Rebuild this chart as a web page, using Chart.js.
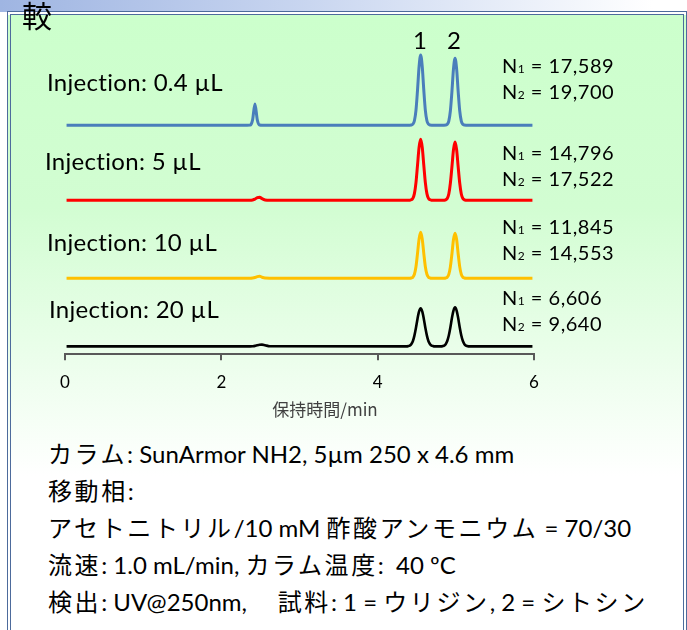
<!DOCTYPE html>
<html>
<head>
<meta charset="utf-8">
<script src="https://cdn.jsdelivr.net/npm/chart.js@4"></script>
<style>
  html, body { margin: 0; padding: 0; }
  body { width: 687px; height: 630px; position: relative; overflow: hidden; background: #fff;
         font-family: 'Lato', 'Noto Sans CJK JP', sans-serif; color: #000; }
  #band { position: absolute; left: 0; top: 0; width: 687px; height: 12px;
          background: linear-gradient(to right, #9fb5e2 0%, #c9d6f0 45%, #ffffff 95%); }
  #box { position: absolute; left: 7px; top: 11px; width: 672px; height: 640px;
         border: 4px double #4d6b9c;
         background: linear-gradient(to bottom, #ccffcc 0%, #d2fdd2 30%, #ffffff 72%); }
  #chart { position: absolute; left: 0; top: 0; }
  .t { position: absolute; white-space: nowrap; line-height: 1; }
  .inj { font-size: 24px; letter-spacing: 0.3px; }
  .n { font-size: 20px; letter-spacing: 0.5px; }
  .n sub { font-size: 12px; vertical-align: baseline; }
  .pk { font-size: 24px; }
  .cond { font-size: 24px; left: 48px; }
  .jp { font-family: 'Noto Sans CJK JP'; letter-spacing: 2.6px; }
  #kanji { font-family: 'Noto Sans CJK JP'; font-size: 30px; left: 22px; top: -1px; }
</style>
</head>
<body>
<div id="band"></div>
<div id="box"></div>
<canvas id="chart" width="687" height="420"></canvas>

<div class="t" id="kanji">較</div>

<div class="t pk" style="left:413px; top:28px;">1</div>
<div class="t pk" style="left:447px; top:28px;">2</div>

<div class="t inj" style="left:47px; top:70px;">Injection: 0.4 µL</div>
<div class="t inj" style="left:45px; top:149px;">Injection: 5 µL</div>
<div class="t inj" style="left:47px; top:230px;">Injection: 10 µL</div>
<div class="t inj" style="left:49px; top:297px;">Injection: 20 µL</div>

<div class="t n" style="left:502px; top:55px;">N<sub>1</sub> = 17,589</div>
<div class="t n" style="left:502px; top:81px;">N<sub>2</sub> = 19,700</div>
<div class="t n" style="left:502px; top:142px;">N<sub>1</sub> = 14,796</div>
<div class="t n" style="left:502px; top:168px;">N<sub>2</sub> = 17,522</div>
<div class="t n" style="left:502px; top:216px;">N<sub>1</sub> = 11,845</div>
<div class="t n" style="left:502px; top:242px;">N<sub>2</sub> = 14,553</div>
<div class="t n" style="left:502px; top:287px;">N<sub>1</sub> = 6,606</div>
<div class="t n" style="left:502px; top:313px;">N<sub>2</sub> = 9,640</div>

<div class="t cond" style="top:441px;"><span class="jp">カラム</span>: SunArmor NH2, 5µm 250 x 4.6 mm</div>
<div class="t cond" style="top:478px;"><span class="jp">移動相</span>:</div>
<div class="t cond" style="top:515px;"><span class="jp">アセトニトリル</span>/10 mM <span class="jp">酢酸アンモニウム</span> = 70/30</div>
<div class="t cond" style="top:552px;"><span class="jp">流速</span>: 1.0 mL/min, <span class="jp">カラム温度</span>:&nbsp; 40 ºC</div>
<div class="t cond" style="top:589px;"><span class="jp">検出</span>: UV@250nm,&nbsp;&nbsp;&nbsp;&nbsp; <span class="jp">試料</span>: 1 = <span class="jp">ウリジン</span>, 2 = <span class="jp">シトシン</span></div>

<script>
// --- DATA ---
// retention time, min
const retentionTime = [
  0.02,
  2.33, 2.37, 2.40, 2.43, 2.46, 2.49, 2.52, 2.56, 2.62,
  4.37, 4.39, 4.41, 4.43, 4.45, 4.47, 4.49, 4.51, 4.53, 4.55,
  4.57, 4.59, 4.61, 4.63, 4.65, 4.67, 4.69, 4.71, 4.73,
  4.81, 4.83, 4.85, 4.87, 4.89, 4.91, 4.93, 4.95, 4.97, 4.99,
  5.01, 5.03, 5.05, 5.07, 5.09, 5.11, 5.13, 5.15, 5.17,
  5.98
];

// detector response per injection (relative units)
const signal04uL = [
  0,
  0, 0.03, 1.7, 6.7, 1.7, 0.05, 0, 0, 0,
  0, 0, 0, 0.04, 0.3, 1.4, 4.7, 11.2, 18.7, 22.3,
  18.7, 11.2, 4.7, 1.4, 0.3, 0.04, 0, 0, 0,
  0, 0, 0, 0.04, 0.3, 1.3, 4.5, 10.7, 17.9, 21.3,
  17.9, 10.7, 4.5, 1.3, 0.3, 0.04, 0, 0, 0,
  0
];
const signal5uL = [
  0,
  0, 0, 0.1, 0.35, 0.85, 0.95, 0.5, 0.1, 0,
  0, 0, 0.02, 0.14, 0.6, 2.1, 5.6, 11.2, 16.9, 19.4,
  16.9, 11.2, 5.6, 2.1, 0.6, 0.14, 0.02, 0, 0,
  0, 0, 0.02, 0.13, 0.57, 2.0, 5.4, 10.6, 16.1, 18.5,
  16.1, 10.6, 5.4, 2.0, 0.57, 0.13, 0.02, 0, 0,
  0
];
const signal10uL = [
  0,
  0, 0, 0.05, 0.2, 0.5, 0.6, 0.3, 0.05, 0,
  0, 0, 0, 0.06, 0.31, 1.24, 3.65, 7.9, 12.5, 14.6,
  12.5, 7.9, 3.65, 1.24, 0.31, 0.06, 0, 0, 0,
  0, 0, 0, 0.06, 0.3, 1.2, 3.6, 7.7, 12.3, 14.3,
  12.3, 7.7, 3.6, 1.2, 0.3, 0.06, 0, 0, 0,
  0
];
const signal20uL = [
  0,
  0, 0, 0.05, 0.15, 0.35, 0.5, 0.55, 0.35, 0.05,
  0, 0.07, 0.24, 0.7, 1.6, 3.4, 5.9, 8.8, 11.1, 12.1,
  11.1, 8.8, 5.9, 3.4, 1.6, 0.7, 0.24, 0.07, 0,
  0, 0.07, 0.25, 0.7, 1.7, 3.45, 6.0, 9.0, 11.4, 12.4,
  11.4, 9.0, 6.0, 3.45, 1.7, 0.7, 0.25, 0.07, 0,
  0
];

// vertical offset of each trace in the stacked plot
const traceOffsets = [72.9, 49.0, 24.2, 2.5];
const traceNames = ['0.4 µL', '5 µL', '10 µL', '20 µL'];
const traceColors = ['#4a7ebb', '#ff0000', '#ffc000', '#000000'];
const traceWidths = [3, 3, 3, 2.6];

const xTicks = [0, 2, 4, 6];

const allSignals = [signal04uL, signal5uL, signal10uL, signal20uL];

function buildDataset(i) {
  return {
    label: traceNames[i],
    data: retentionTime.map((t, j) => ({ x: t, y: allSignals[i][j] + traceOffsets[i] })),
    borderColor: traceColors[i],
    borderWidth: traceWidths[i],
    pointRadius: 0,
    cubicInterpolationMode: 'monotone',
    fill: false
  };
}

const ctx = document.getElementById('chart').getContext('2d');
new Chart(ctx, {
  type: 'line',
  data: { datasets: [0, 1, 2, 3].map(buildDataset) },
  options: {
    responsive: false,
    animation: false,
    devicePixelRatio: 1,
    layout: { padding: { left: 65, right: 153, top: 40, bottom: 0 } },
    plugins: { legend: { display: false }, tooltip: { enabled: false } },
    scales: {
      x: {
        type: 'linear',
        min: 0, max: 6,
        afterBuildTicks: axis => { axis.ticks = xTicks.map(v => ({ value: v })); },
        ticks: { color: '#000', font: { family: 'Lato', size: 17 }, padding: 12 },
        grid: { drawOnChartArea: false, drawTicks: true, tickLength: 6, color: '#595959', lineWidth: 2 },
        border: { color: '#595959', width: 2 },
        title: {
          display: true,
          text: '\u3000\u3000\u3000保持時間/min',
          color: '#404040',
          font: { family: "'Noto Sans CJK JP'", size: 17 },
          padding: { top: -5, bottom: 0 }
        }
      },
      y: { display: false, min: 0, max: 100 }
    }
  }
});
</script>
</body>
</html>
